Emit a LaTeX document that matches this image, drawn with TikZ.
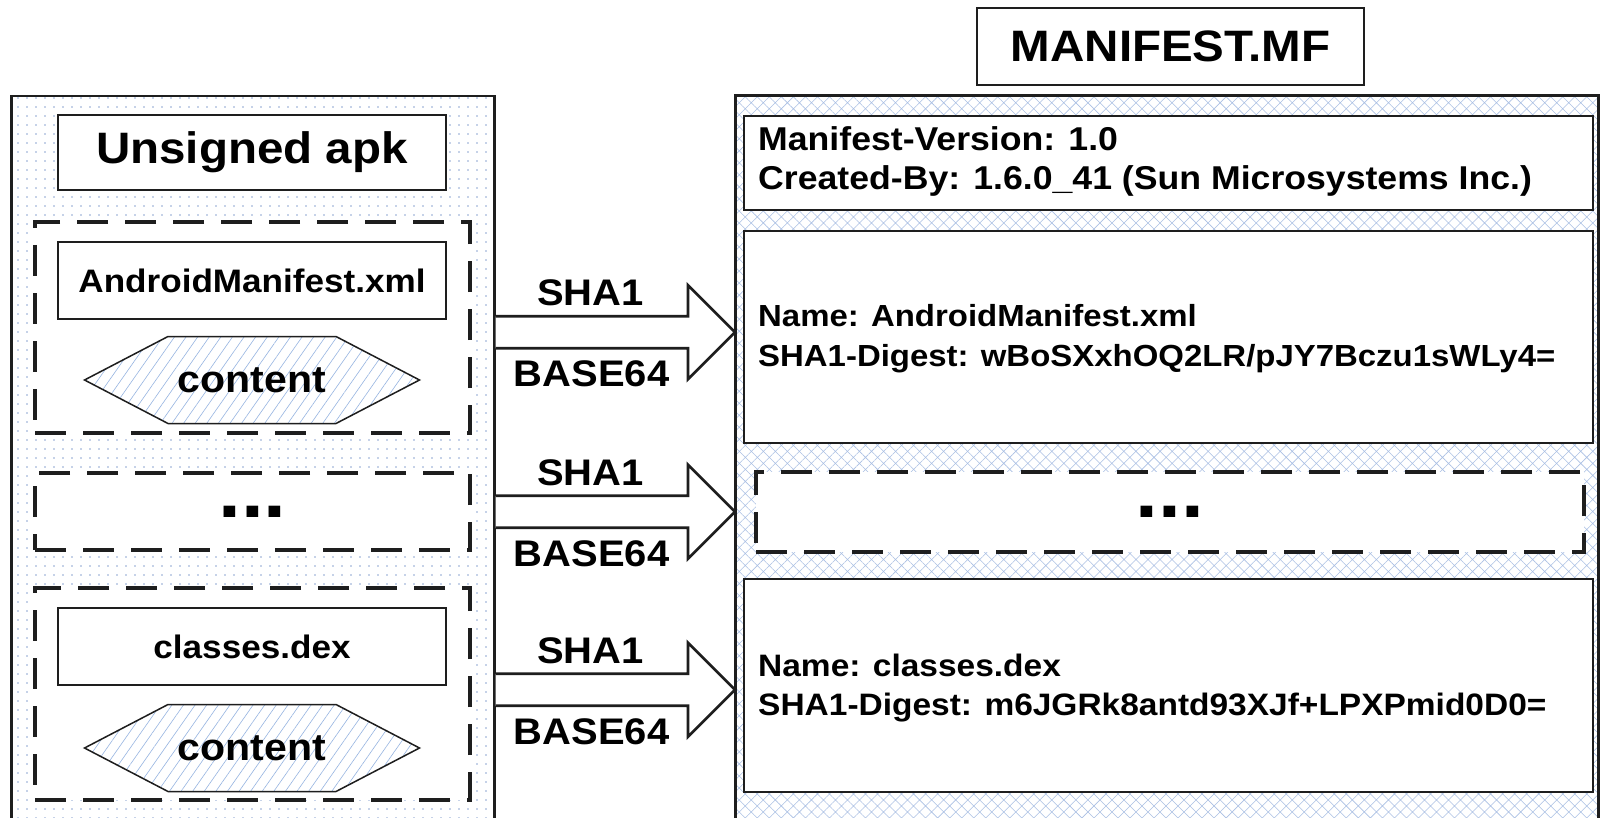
\documentclass[tikz,border=0pt]{standalone}
\usepackage{fontspec}
\setmainfont{Liberation Sans}[FakeStretch=1.08]
\usetikzlibrary{patterns.meta,calc}
\definecolor{dotblue}{RGB}{140,165,210}
\definecolor{hatchblue}{RGB}{170,192,228}
\definecolor{lineblue}{RGB}{150,180,225}
\definecolor{edge}{RGB}{30,30,30}

% fat block arrow from a point on one panel edge to a point on the other
\newcommand\blockarrow[2]{%
  \draw[arrowline] ($(#1)+(0,-16)$) -- ($(#2)+(-47,-16)$) -- ($(#2)+(-47,-47)$)
    -- (#2) -- ($(#2)+(-47,47)$) -- ($(#2)+(-47,16)$) -- ($(#1)+(0,16)$);}

\begin{document}
\begin{tikzpicture}[x=1pt,y=-1pt,
  panel/.style={draw=edge,line width=2.5pt,inner sep=0pt,anchor=north west,
    minimum height=760pt},
  dotfill/.style={pattern={Dots[distance=9pt,radius=0.85pt]},pattern color=dotblue},
  hatchfill/.style={pattern={Hatch[angle=45,distance=8.5pt,line width=0.55pt]},
    pattern color=hatchblue},
  plainbox/.style={draw=edge,line width=2pt,fill=white,inner sep=0pt},
  dashbox/.style={draw=edge,line width=4pt,fill=white,
    dash pattern=on 31pt off 17pt,inner sep=0pt},
  hexa/.style={draw=edge,line width=1.5pt,line join=miter,preaction={fill=white},
    pattern={Lines[angle=55,distance=9.5pt,line width=0.6pt]},pattern color=lineblue},
  arrowline/.style={draw=edge,line width=2.8pt,line join=miter,fill=white},
  huge/.style={font=\fontsize{44}{50}\selectfont\bfseries,inner sep=0pt},
  mid/.style={font=\fontsize{37}{42}\selectfont\bfseries,inner sep=0pt},
  hextxt/.style={font=\fontsize{38}{42}\selectfont\bfseries,inner sep=0pt},
  boxtxt/.style={font=\fontsize{32.5}{36}\selectfont\bfseries,inner sep=0pt},
  entry/.style={font=\fontsize{31}{36}\selectfont\bfseries,inner sep=0pt,anchor=base west},
  ellip/.style={font=\fontsize{76}{80}\selectfont\bfseries,inner sep=0pt}
]
\clip (0,0) rectangle (1602,818);
\fill[white] (0,0) rectangle (1602,818);

% ---------- unsigned apk ----------
\node[panel,dotfill,minimum width=483pt] (lp) at (10,95) {};
\node[plainbox,minimum width=388pt,minimum height=75pt] (ub) at (252,152.5) {};
\node[huge,anchor=base] (ubt) at (252,164) {Unsigned apk};

\node[dashbox,minimum width=435pt,minimum height=211pt] (d1) at (252.5,327.5) {};
\node[plainbox,boxtxt,minimum width=388pt,minimum height=77pt] (amf) at (252,280.5) {AndroidManifest.xml};
\coordinate (h1) at (252,380);
\draw[hexa] ($(h1)+(-167.5,0)$) -- ($(h1)+(-84,-43.5)$) -- ($(h1)+(84,-43.5)$)
  -- ($(h1)+(167.5,0)$) -- ($(h1)+(84,43.5)$) -- ($(h1)+(-84,43.5)$) -- cycle;
\node[hextxt] (c1) at (h1) {content};

\node[dashbox,minimum width=435pt,minimum height=77pt] (d2) at (252.5,511.5) {};
\node[ellip] (e1) at (d2.center) {...};

\node[dashbox,minimum width=435pt,minimum height=212pt] (d3) at (252.5,694) {};
\node[plainbox,boxtxt,minimum width=388pt,minimum height=77pt] (cdx) at (252,646.5) {classes.dex};
\coordinate (h2) at (252,748);
\draw[hexa] ($(h2)+(-167.5,0)$) -- ($(h2)+(-84,-43.5)$) -- ($(h2)+(84,-43.5)$)
  -- ($(h2)+(167.5,0)$) -- ($(h2)+(84,43.5)$) -- ($(h2)+(-84,43.5)$) -- cycle;
\node[hextxt] (c2) at (h2) {content};

% ---------- MANIFEST.MF ----------
\node[panel,hatchfill,minimum width=863pt] (rp) at (735,95) {};
\node[plainbox,huge,minimum width=387pt,minimum height=77pt] (mf) at (1170.5,46.5) {MANIFEST.MF};

\node[plainbox,minimum width=849pt,minimum height=94pt] (hd) at (1168.5,163) {};
\node[entry,font=\fontsize{33}{36}\selectfont\bfseries] at ($(hd.north west)+(15,36)$) {Manifest-Version: 1.0};
\node[entry,font=\fontsize{33}{36}\selectfont\bfseries] at ($(hd.north west)+(15,75)$) {Created-By: 1.6.0\_41 (Sun Microsystems Inc.)};

\node[plainbox,minimum width=849pt,minimum height=212pt] (m1) at (1168.5,337) {};
\node[entry,font=\fontsize{30.5}{36}\selectfont\bfseries] at ($(m1.north west)+(15,96)$) {Name: AndroidManifest.xml};
\node[entry,font=\fontsize{30.5}{36}\selectfont\bfseries] at ($(m1.north west)+(15,136)$) {SHA1-Digest: wBoSXxhOQ2LR/pJY7Bczu1sWLy4=};

\node[dashbox,minimum width=828pt,minimum height=80pt] (rd) at (1170,512) {};
\node[ellip] (e2) at (rd.center) {...};

\node[plainbox,minimum width=849pt,minimum height=213pt] (m2) at (1168.5,685.5) {};
\node[entry] at ($(m2.north west)+(15,98)$) {Name: classes.dex};
\node[entry] at ($(m2.north west)+(15,137)$) {SHA1-Digest: m6JGRk8antd93XJf+LPXPmid0D0=};

% ---------- digest arrows ----------
\coordinate (y1) at ($(d1.east)!0.5!(m1.west)$);
\coordinate (y2) at ($(d2.east)!0.5!(rd.west)$);
\coordinate (y3) at ($(d3.east)!0.5!(m2.west)$);
\foreach \k in {1,2,3}{
  \path (lp.east |- y\k) coordinate (s\k) (rp.west |- y\k) coordinate (t\k);
  \blockarrow{s\k}{t\k}
  \node[mid] at ($(s\k)+(95,-39)$) {SHA1};
  \node[mid] at ($(s\k)+(96,42)$) {BASE64};
}
\end{tikzpicture}
\end{document}
